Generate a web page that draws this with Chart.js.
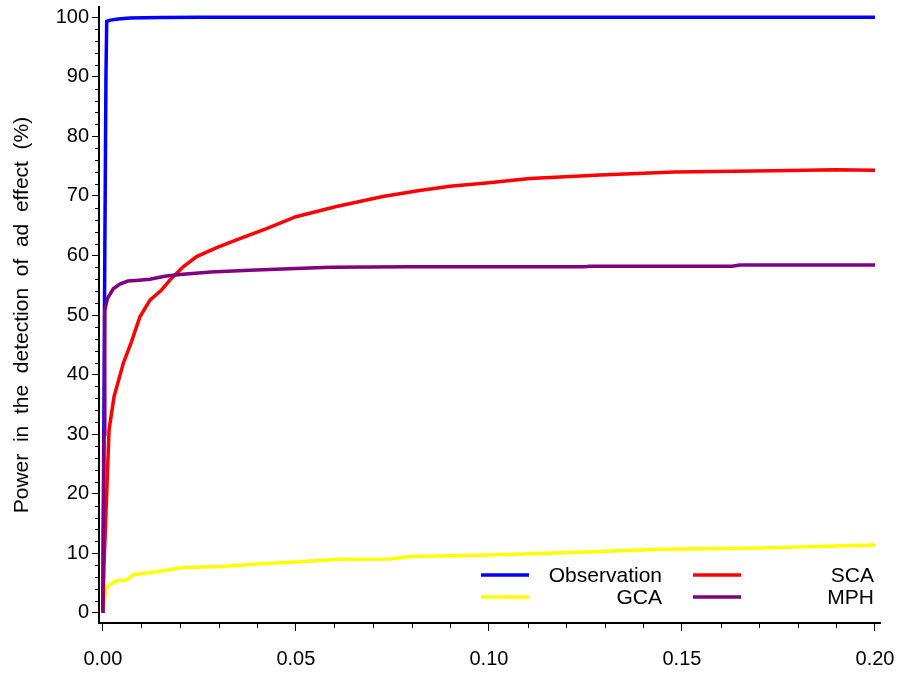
<!DOCTYPE html>
<html>
<head>
<meta charset="utf-8">
<script src="https://cdn.jsdelivr.net/npm/chart.js@4"></script>
<style>
  html, body { margin: 0; padding: 0; background: #fff; }
  #wrap { width: 901px; height: 673px; }
</style>
</head>
<body>
<div id="wrap"><canvas id="powerChart" width="901" height="673"></canvas></div>
<script>
// Series (x = threshold, y = power in %)
const obsX = [0, 0.0002, 0.0005, 0.0008, 0.001, 0.002, 0.004, 0.007, 0.015, 0.025, 0.06, 0.2];
const obsY = [0, 25, 60, 90, 99.3, 99.5, 99.7, 99.85, 99.95, 100, 100, 100];

const scaX = [0, 0.0003, 0.0007, 0.001, 0.0016, 0.0029, 0.0053, 0.0074, 0.0096, 0.0122, 0.0152, 0.0174, 0.0208, 0.0243, 0.0295, 0.0346, 0.0424, 0.050, 0.0605, 0.0725, 0.082, 0.0899, 0.1, 0.1106, 0.1288, 0.148, 0.1736, 0.19, 0.2];
const scaY = [0, 8, 15, 20, 30.7, 36.3, 41.9, 45.5, 49.7, 52.5, 54.2, 55.9, 58.1, 59.8, 61.3, 62.6, 64.5, 66.5, 68.2, 69.9, 70.9, 71.6, 72.2, 72.9, 73.5, 74.0, 74.2, 74.4, 74.3];

const mphX = [0, 0.0003, 0.0005, 0.0012, 0.0027, 0.0044, 0.0065, 0.0085, 0.0122, 0.016, 0.020, 0.028, 0.038, 0.05, 0.059, 0.08, 0.125, 0.126, 0.163, 0.165, 0.2];
const mphY = [0, 30, 50.8, 52.8, 54.4, 55.2, 55.7, 55.8, 56.0, 56.5, 56.8, 57.2, 57.5, 57.8, 58.0, 58.1, 58.1, 58.2, 58.2, 58.4, 58.4];

const gcaX = [0, 0.0004, 0.0008, 0.0018, 0.0035, 0.0061, 0.0079, 0.0139, 0.0208, 0.031, 0.0398, 0.0484, 0.0614, 0.0744, 0.0795, 0.1003, 0.125, 0.145, 0.17, 0.2];
const gcaY = [0, 2, 4.1, 4.7, 5.4, 5.5, 6.4, 6.9, 7.6, 7.8, 8.2, 8.5, 9.0, 9.05, 9.45, 9.7, 10.2, 10.7, 10.9, 11.4];

// Axis ticks
const xMajor = [0, 0.05, 0.10, 0.15, 0.20];
const xMinor = [0.01, 0.02, 0.03, 0.04, 0.06, 0.07, 0.08, 0.09, 0.11, 0.12, 0.13, 0.14, 0.16, 0.17, 0.18, 0.19];
const yMajor = [0, 10, 20, 30, 40, 50, 60, 70, 80, 90, 100];

const legendRows = [
  [{ label: 'Observation', color: '#0000ff' }, { label: 'SCA', color: '#ff0000' }],
  [{ label: 'GCA', color: '#ffff00' }, { label: 'MPH', color: '#800080' }]
];

const FONT = 'Liberation Sans, Arial, sans-serif';

function toPoints(xs, ys) {
  return xs.map((x, i) => ({ x: x, y: ys[i] }));
}

function makeSet(label, xs, ys, color, order) {
  return {
    label: label,
    data: toPoints(xs, ys),
    borderColor: color,
    backgroundColor: color,
    borderWidth: 3.5,
    pointRadius: 0,
    tension: 0,
    fill: false,
    order: order
  };
}

// minor ticks + legend drawn on top
const extrasPlugin = {
  id: 'extras',
  afterDraw(chart) {
    const ctx = chart.ctx;
    const xs = chart.scales.x;
    const ys = chart.scales.y;
    const area = chart.chartArea;
    ctx.save();
    ctx.strokeStyle = '#000';
    ctx.lineWidth = 1;
    ctx.beginPath();
    xMinor.forEach(v => {
      const px = Math.round(xs.getPixelForValue(v)) + 0.5;
      ctx.moveTo(px, area.bottom);
      ctx.lineTo(px, area.bottom + 5);
    });
    for (let v = 2; v < 101; v += 2) {
      if (v % 10 === 0) continue;
      const py = Math.round(ys.getPixelForValue(v)) + 0.5;
      ctx.moveTo(area.left, py);
      ctx.lineTo(area.left - 4, py);
    }
    ctx.stroke();

    // legend
    ctx.font = '21px ' + FONT;
    ctx.textBaseline = 'middle';
    ctx.textAlign = 'right';
    const rowY = [area.bottom - 48, area.bottom - 26];
    const colLine = [area.right - 399, area.right - 187];
    const colText = [area.right - 218, area.right - 6];
    legendRows.forEach((row, r) => {
      row.forEach((item, c) => {
        ctx.strokeStyle = item.color;
        ctx.lineWidth = 3.5;
        ctx.beginPath();
        ctx.moveTo(colLine[c], rowY[r]);
        ctx.lineTo(colLine[c] + 48, rowY[r]);
        ctx.stroke();
        ctx.fillStyle = '#000';
        ctx.fillText(item.label, colText[c], rowY[r] + 1);
      });
    });
    ctx.restore();
  }
};

const chart = new Chart(document.getElementById('powerChart'), {
  type: 'line',
  data: {
    datasets: [
      makeSet('Observation', obsX, obsY, '#0000ff', 4),
      makeSet('GCA', gcaX, gcaY, '#ffff00', 3),
      makeSet('SCA', scaX, scaY, '#ff0000', 2),
      makeSet('MPH', mphX, mphY, '#800080', 1)
    ]
  },
  options: {
    responsive: false,
    animation: false,
    layout: { padding: { top: 7, right: 21, left: 0, bottom: 0 } },
    plugins: {
      legend: { display: false },
      tooltip: { enabled: false }
    },
    scales: {
      x: {
        type: 'linear',
        min: -0.001,
        max: 0.2013,
        afterBuildTicks: s => { s.ticks = xMajor.map(v => ({ value: v })); },
        afterFit: s => { s.height = 50; s.paddingLeft = 0; s.paddingRight = 0; },
        border: { color: '#000', width: 2 },
        grid: { drawOnChartArea: false, drawTicks: true, tickLength: 8, tickColor: '#000' },
        ticks: {
          color: '#000',
          font: { family: FONT, size: 20, lineHeight: 0.6 },
          padding: 22,
          maxRotation: 0,
          callback: v => v.toFixed(2)
        }
      },
      y: {
        type: 'linear',
        min: -1.7,
        max: 101.7,
        afterBuildTicks: s => { s.ticks = yMajor.map(v => ({ value: v })); },
        afterFit: s => { s.width = 99; s.paddingTop = 0; s.paddingBottom = 0; },
        border: { color: '#000', width: 2 },
        grid: { drawOnChartArea: false, drawTicks: true, tickLength: 7, tickColor: '#000' },
        ticks: {
          color: '#000',
          font: { family: FONT, size: 20, lineHeight: 0.6 },
          padding: 3
        },
        title: {
          display: true,
          text: 'Power  in  the  detection  of  ad  effect  (%)',
          color: '#000',
          font: { family: FONT, size: 21 },
          padding: { top: 10, bottom: 0 }
        }
      }
    }
  },
  plugins: [extrasPlugin]
});
</script>
</body>
</html>
